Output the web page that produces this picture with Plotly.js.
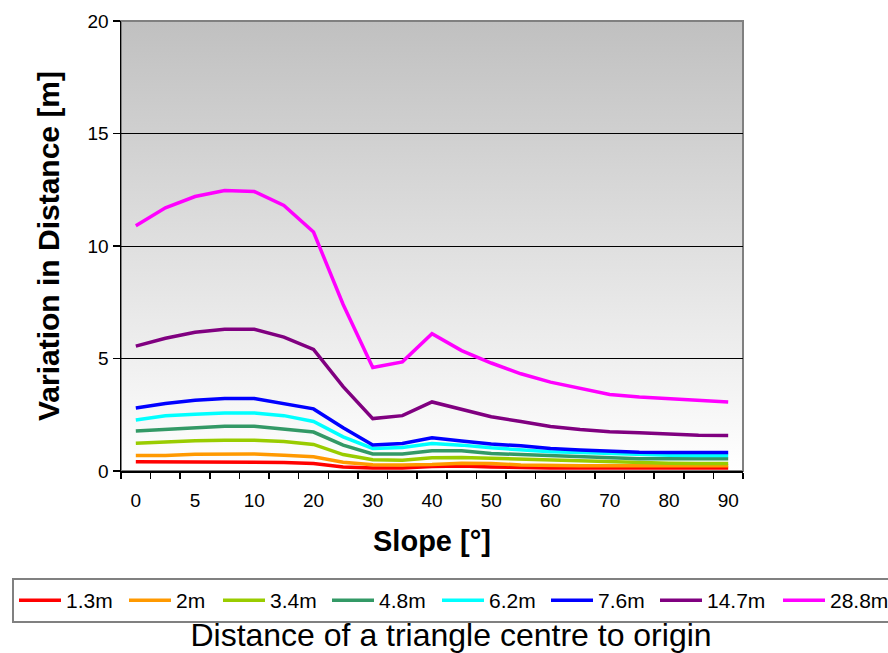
<!DOCTYPE html>
<html>
<head>
<meta charset="utf-8">
<script src="https://cdn.plot.ly/plotly-3.0.1.min.js"></script>
<style>html,body{margin:0;padding:0;background:#fff;}#chart{width:888px;height:653px;}</style>
</head>
<body>
<div id="chart"></div>
<script>
// Slope categories (degrees) and which ones carry a label
const slopes = ["0","2.5","5","7.5","10","15","20","25","30","35","40","45","50","55","60","65","70","75","80","85","90"];
const labelledSlopes = ["0","5","10","20","30","40","50","60","70","80","90"];

// Series: distance of a triangle centre to origin
const seriesNames = ["1.3m","2m","3.4m","4.8m","6.2m","7.6m","14.7m","28.8m"];
const d1_3 = [0.41,0.41,0.41,0.41,0.41,0.38,0.33,0.18,0.13,0.13,0.20,0.22,0.18,0.14,0.13,0.13,0.13,0.13,0.13,0.13,0.13];
const d2_0 = [0.69,0.69,0.75,0.76,0.76,0.70,0.63,0.39,0.28,0.27,0.29,0.35,0.33,0.27,0.24,0.23,0.23,0.23,0.23,0.23,0.23];
const d3_4 = [1.23,1.30,1.35,1.37,1.37,1.31,1.18,0.73,0.50,0.48,0.59,0.60,0.56,0.52,0.49,0.45,0.42,0.38,0.34,0.33,0.33];
const d4_8 = [1.78,1.86,1.93,1.99,1.99,1.86,1.73,1.15,0.76,0.76,0.90,0.90,0.78,0.73,0.69,0.63,0.58,0.55,0.54,0.54,0.54];
const d6_2 = [2.27,2.46,2.52,2.58,2.58,2.46,2.20,1.52,1.00,1.04,1.22,1.15,1.03,0.93,0.86,0.82,0.78,0.73,0.70,0.69,0.69];
const d7_6 = [2.80,3.00,3.14,3.22,3.22,3.00,2.76,1.92,1.16,1.22,1.48,1.33,1.20,1.12,1.00,0.93,0.88,0.83,0.82,0.82,0.82];
const d14_7 = [5.55,5.90,6.17,6.30,6.30,5.95,5.40,3.75,2.33,2.46,3.07,2.73,2.41,2.20,1.98,1.84,1.75,1.70,1.65,1.59,1.58];
const d28_8 = [10.90,11.70,12.20,12.47,12.42,11.80,10.62,7.40,4.60,4.85,6.10,5.35,4.80,4.32,3.95,3.66,3.40,3.29,3.22,3.14,3.07];
const seriesValues = [d1_3,d2_0,d3_4,d4_8,d6_2,d7_6,d14_7,d28_8];

const yTicks = [0,5,10,15,20];

// Styles
const colors = ["#FF0000","#FF9900","#99CC00","#339966","#00FFFF","#0000FF","#800080","#FF00FF"];
const legendWidths = [53,37,52,53,52,52,66,65];
const FONT = "Liberation Sans, Arial, sans-serif";

const traces = seriesNames.map((n,i) => ({
  type: "scatter",
  mode: "lines",
  name: n,
  x: slopes,
  y: seriesValues[i],
  line: {color: colors[i], width: 3.5},
  legendwidth: legendWidths[i],
  hoverinfo: "x+y+name"
}));

const W = 888, H = 653;
const L = 121, R = 0, T = 21, B = 182;
const plotW = 622;
const paperW = W - L - R;
const dom = plotW / paperW;

const svg = "<svg xmlns='http://www.w3.org/2000/svg' width='10' height='100' viewBox='0 0 10 100' preserveAspectRatio='none'>" +
  "<defs><linearGradient id='g' x1='0' y1='0' x2='0' y2='1'>" +
  "<stop offset='0' stop-color='#c0c0c0'/><stop offset='1' stop-color='#ffffff'/>" +
  "</linearGradient></defs><rect x='0' y='0' width='10' height='100' fill='url(#g)'/></svg>";
const bgURI = "data:image/svg+xml;charset=utf-8," + encodeURIComponent(svg);

const layout = {
  width: W, height: H,
  margin: {l: L, r: R, t: T, b: B, autoexpand: false},
  paper_bgcolor: "#ffffff",
  plot_bgcolor: "rgba(0,0,0,0)",
  font: {family: FONT, color: "#000"},
  showlegend: true,
  title: {
    text: "Distance of a triangle centre to origin",
    font: {family: FONT, size: 32, color: "#000"},
    xref: "container", x: 451/W, xanchor: "center",
    yref: "container", y: (H-635)/H, yanchor: "middle"
  },
  xaxis: {
    domain: [0, dom],
    type: "category",
    categoryorder: "array",
    categoryarray: slopes,
    range: [-0.5, slopes.length - 0.5],
    tickmode: "array",
    tickvals: slopes,
    ticktext: slopes.map(s => labelledSlopes.includes(s) ? s : ""),
    tickson: "boundaries",
    tickangle: 0,
    ticks: "outside", ticklen: 6, tickwidth: 1.5, tickcolor: "#000",
    ticklabelstandoff: 12,
    showline: true, linecolor: "#000", linewidth: 1.5,
    showgrid: false, zeroline: false,
    tickfont: {family: FONT, size: 19, color: "#000"},
    title: {text: "Slope [°]", font: {family: FONT, size: 29, color: "#000", weight: "bold"}, standoff: 20}
  },
  yaxis: {
    range: [0, 20],
    tickmode: "array",
    tickvals: yTicks,
    ticks: "outside", ticklen: 7, tickwidth: 1.5, tickcolor: "#000",
    showline: true, linecolor: "#000", linewidth: 1.5,
    showgrid: true, gridcolor: "#000", gridwidth: 1,
    zeroline: false,
    tickfont: {family: FONT, size: 19, color: "#000"},
    title: {text: "Variation in Distance [m]", font: {family: FONT, size: 30, color: "#000", weight: "bold"}, standoff: 19}
  },
  legend: {
    orientation: "h",
    x: (12 - L) / paperW, xanchor: "left",
    y: (471 - 578) / (H - T - B), yanchor: "top",
    bgcolor: "#ffffff",
    bordercolor: "#808080", borderwidth: 2,
    font: {family: FONT, size: 21, color: "#000"},
    itemwidth: 42,
    traceorder: "normal"
  },
  images: [{
    source: bgURI,
    xref: "paper", yref: "paper",
    x: 0, y: 1, sizex: dom, sizey: 1,
    xanchor: "left", yanchor: "top",
    sizing: "stretch", layer: "below"
  }],
  shapes: [{
    type: "rect", xref: "paper", yref: "paper",
    x0: 0, x1: dom, y0: 0, y1: 1,
    line: {color: "#808080", width: 2},
    fillcolor: "rgba(0,0,0,0)",
    layer: "between"
  }]
};

Plotly.newPlot("chart", traces, layout, {displayModeBar: false, staticPlot: true});
</script>
</body>
</html>
